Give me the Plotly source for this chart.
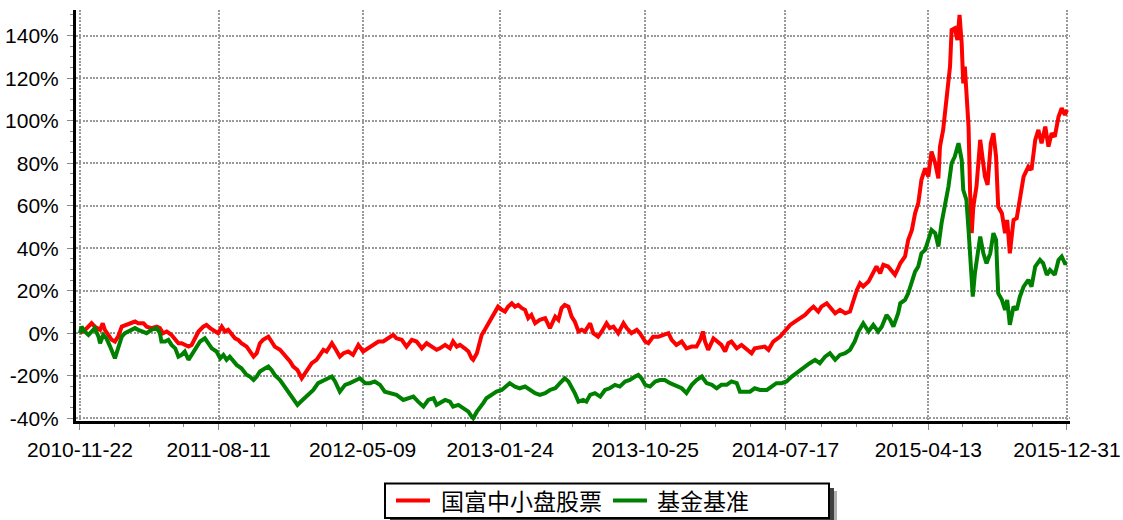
import pandas as pd
import plotly.graph_objects as go

start = pd.Timestamp("2010-11-22")

tick_labels = ["2010-11-22", "2011-08-11", "2012-05-09", "2013-01-24",
               "2013-10-25", "2014-07-17", "2015-04-13", "2015-12-31"]
y_ticks = [-40, -20, 0, 20, 40, 60, 80, 100, 120, 140]
y_tick_labels = [f"{v}%" for v in y_ticks]

fund_name = "国富中小盘股票"
bench_name = "基金基准"

# days since 2010-11-22 and cumulative return (%)
fund_days = [0, 11, 22, 28, 38, 43, 47, 54, 60, 66, 72, 79, 88, 98, 104, 110, 120, 126, 135, 145, 151, 157, 164, 173, 180, 186, 192, 198, 205, 211, 217, 224, 233, 239, 246, 255, 261, 268, 274, 280, 287, 293, 299, 305, 315, 321, 328, 334, 340, 346, 356, 362, 368, 378, 387, 397, 403, 411, 419, 425, 431, 438, 447, 453, 460, 466, 476, 482, 491, 498, 507, 516, 526, 535, 545, 554, 564, 573, 583, 592, 598, 608, 617, 627, 636, 646, 655, 665, 674, 680, 690, 699, 705, 712, 718, 727, 734, 740, 743, 750, 756, 759, 765, 772, 778, 784, 790, 797, 803, 809, 816, 822, 828, 835, 841, 847, 853, 860, 866, 869, 879, 888, 898, 904, 910, 916, 923, 929, 935, 942, 948, 954, 964, 970, 979, 986, 995, 1001, 1008, 1017, 1027, 1033, 1042, 1052, 1058, 1068, 1074, 1083, 1093, 1102, 1112, 1118, 1127, 1137, 1146, 1156, 1165, 1172, 1177, 1181, 1187, 1197, 1203, 1212, 1219, 1225, 1231, 1241, 1250, 1260, 1269, 1275, 1285, 1294, 1301, 1310, 1323, 1332, 1342, 1351, 1360, 1370, 1379, 1386, 1395, 1401, 1411, 1420, 1427, 1436, 1446, 1455, 1461, 1468, 1474, 1480, 1490, 1499, 1505, 1512, 1518, 1527, 1534, 1540, 1546, 1550, 1559, 1565, 1572, 1578, 1584, 1590, 1597, 1603, 1609, 1616, 1622, 1625, 1631, 1638, 1644, 1647, 1653, 1658, 1662, 1666, 1669, 1672, 1679, 1682, 1685, 1688, 1694, 1701, 1704, 1710, 1715, 1721, 1726, 1731, 1735, 1742, 1748, 1752, 1757, 1764, 1770, 1776, 1783, 1792, 1798, 1805, 1811, 1817, 1824, 1830, 1836, 1842, 1849, 1855, 1861, 1865]
fund_values = [0, 1.9, 4.7, 3.1, 1.6, 4.7, 1.6, -0.8, -3.1, -3.9, -1.6, 3.1, 3.9, 4.7, 5.5, 4.7, 4.7, 3.1, 2.4, 3.1, 2.4, 0.0, 0.8, -0.8, -3.1, -4.7, -4.7, -5.5, -6.3, -5.5, -2.4, 0.8, 3.1, 3.9, 2.4, 0.8, 0.0, 3.1, 0.8, 1.6, -0.8, -2.4, -3.1, -4.7, -6.3, -8.6, -11.0, -9.4, -4.7, -3.1, -1.6, -3.9, -6.3, -7.8, -10.2, -13.3, -15.7, -17.3, -21.2, -18.8, -16.5, -14.1, -12.5, -10.2, -7.8, -8.6, -4.7, -7.1, -11.0, -9.4, -8.6, -10.2, -5.5, -8.6, -7.1, -5.5, -3.9, -3.9, -2.4, -0.8, -2.4, -3.1, -6.3, -3.1, -3.9, -7.1, -4.7, -6.3, -7.8, -7.1, -5.5, -7.1, -3.9, -6.3, -5.5, -7.1, -8.6, -11.8, -12.5, -9.4, -3.9, -0.8, 1.6, 4.7, 7.1, 10.2, 12.5, 11.0, 10.2, 12.5, 14.1, 12.5, 13.3, 11.8, 11.0, 7.1, 8.6, 4.7, 5.5, 6.3, 7.1, 2.4, 7.8, 6.3, 11.8, 13.3, 12.5, 7.8, 5.5, 0.8, 1.6, 0.8, 4.7, 0.0, -1.6, 0.8, 4.7, 2.4, 3.1, 0.0, 4.7, 2.4, 0.0, 1.6, 0.0, -3.9, -4.7, -1.6, -1.6, -0.8, 0.0, -3.1, -5.5, -3.9, -7.1, -6.3, -6.3, -3.1, 0.8, -3.9, -7.8, -2.4, -3.9, -5.5, -8.6, -4.7, -3.9, -7.1, -5.5, -7.8, -9.4, -7.1, -6.7, -6.3, -7.8, -3.9, -1.6, 0.8, 3.9, 5.5, 7.1, 8.6, 11.0, 12.5, 10.2, 12.5, 14.1, 11.8, 9.4, 11.0, 9.4, 10.2, 14.9, 20.4, 23.5, 22.0, 24.3, 29.0, 31.4, 28.2, 32.2, 31.4, 29.0, 27.5, 30.6, 32.9, 36.1, 43.9, 48.6, 56.5, 61.2, 72.2, 77.6, 73.7, 85.5, 80.0, 72.9, 87.8, 95.7, 114.5, 125.5, 142.7, 143.5, 138.0, 149.8, 136.5, 117.6, 125.5, 97.2, 65.9, 47.1, 59.6, 69.0, 91.0, 84.7, 73.7, 69.8, 89.4, 94.1, 83.1, 59.6, 56.5, 47.1, 53.3, 37.6, 53.3, 54.1, 62.7, 73.7, 78.4, 76.9, 91.0, 95.7, 89.4, 97.2, 87.8, 94.1, 92.5, 101.9, 105.9, 102.7, 105.1]

bench_days = [0, 3, 9, 16, 22, 28, 35, 38, 44, 50, 57, 63, 66, 72, 79, 85, 91, 98, 104, 110, 120, 126, 135, 145, 151, 154, 161, 167, 173, 180, 186, 192, 198, 205, 211, 220, 227, 236, 243, 249, 258, 265, 271, 277, 283, 290, 296, 305, 315, 321, 328, 334, 340, 350, 356, 362, 368, 378, 387, 397, 403, 411, 416, 431, 441, 450, 460, 469, 476, 482, 491, 501, 510, 520, 529, 539, 548, 557, 567, 576, 586, 598, 611, 620, 630, 639, 649, 658, 668, 674, 680, 690, 699, 705, 715, 724, 734, 740, 743, 750, 756, 762, 768, 778, 787, 797, 806, 812, 822, 831, 841, 850, 860, 869, 879, 888, 898, 907, 916, 923, 929, 935, 942, 951, 957, 964, 973, 983, 992, 1001, 1011, 1020, 1030, 1039, 1049, 1055, 1061, 1068, 1077, 1087, 1096, 1105, 1115, 1127, 1137, 1146, 1156, 1165, 1175, 1184, 1194, 1203, 1212, 1222, 1231, 1241, 1247, 1257, 1266, 1275, 1285, 1298, 1307, 1316, 1326, 1335, 1345, 1357, 1367, 1379, 1389, 1398, 1408, 1417, 1427, 1436, 1446, 1455, 1464, 1471, 1480, 1490, 1499, 1508, 1515, 1524, 1531, 1537, 1546, 1550, 1559, 1565, 1572, 1578, 1584, 1590, 1597, 1603, 1609, 1616, 1622, 1628, 1634, 1641, 1647, 1653, 1660, 1666, 1669, 1675, 1679, 1682, 1687, 1691, 1697, 1701, 1707, 1713, 1720, 1726, 1731, 1735, 1742, 1748, 1752, 1757, 1764, 1770, 1776, 1783, 1792, 1798, 1805, 1814, 1820, 1827, 1833, 1842, 1849, 1855, 1861, 1865]
bench_values = [0, 3.1, 0.8, -0.8, 0.8, 2.4, -1.6, -4.7, -0.8, -2.4, -6.3, -10.2, -11.8, -7.1, -1.6, 0.0, 0.8, 1.6, 2.4, 1.6, 0.8, 0.0, 1.6, 2.4, 0.0, -3.9, -3.9, -3.1, -5.5, -7.1, -11.0, -10.2, -8.6, -12.5, -10.2, -6.3, -3.9, -2.4, -4.7, -7.1, -8.6, -11.8, -10.2, -12.5, -11.0, -13.3, -14.9, -16.5, -19.6, -20.4, -22.0, -20.4, -18.0, -16.5, -15.7, -17.3, -19.6, -22.0, -25.1, -28.2, -30.6, -33.7, -32.5, -29.0, -26.7, -23.5, -22.0, -21.2, -20.4, -22.7, -27.5, -24.3, -23.5, -22.0, -21.2, -23.5, -23.5, -22.7, -24.3, -27.5, -28.2, -29.0, -31.4, -30.6, -29.8, -32.2, -34.5, -31.4, -30.6, -33.7, -32.9, -31.4, -32.2, -34.5, -33.7, -35.3, -36.9, -39.2, -40.0, -36.9, -34.5, -32.9, -30.6, -29.0, -27.5, -26.7, -25.1, -23.5, -25.1, -25.9, -25.1, -26.7, -28.2, -29.0, -28.2, -26.7, -25.9, -23.5, -21.2, -22.7, -25.1, -28.2, -32.2, -31.4, -32.2, -29.0, -28.2, -29.8, -26.7, -25.9, -24.3, -25.1, -22.7, -22.0, -20.4, -19.6, -21.2, -24.3, -25.1, -22.7, -22.0, -22.0, -23.5, -25.1, -25.9, -28.2, -24.3, -22.0, -20.4, -23.5, -24.3, -25.9, -24.3, -24.3, -22.7, -23.5, -27.5, -27.5, -27.5, -25.9, -26.7, -26.7, -25.1, -23.5, -23.5, -22.7, -20.4, -18.0, -16.5, -14.1, -12.5, -14.1, -11.0, -9.4, -12.5, -10.2, -9.4, -7.8, -3.9, 0.8, 4.7, 0.8, 3.9, 0.8, 3.1, 8.6, 6.3, 3.1, 9.4, 14.1, 15.7, 18.8, 24.3, 29.0, 31.4, 37.6, 39.2, 43.9, 48.6, 47.1, 40.8, 51.8, 59.6, 69.0, 80.0, 83.1, 89.4, 81.6, 67.4, 62.7, 48.6, 34.5, 17.2, 28.2, 37.6, 45.5, 37.6, 32.9, 37.6, 47.1, 43.9, 18.8, 15.7, 11.0, 15.7, 4.0, 12.5, 11.0, 17.2, 21.9, 25.1, 21.9, 31.4, 34.5, 32.9, 27.5, 29.8, 27.5, 34.5, 36.1, 32.9, 32.9]

fund_color = "#ff0000"
bench_color = "#008000"

fund_dates = start + pd.to_timedelta(fund_days, unit="D")
bench_dates = start + pd.to_timedelta(bench_days, unit="D")

tick_dates = [pd.Timestamp(t) for t in tick_labels]
minor_dates = []
for a, b in zip(tick_dates[:-1], tick_dates[1:]):
    for k in (1, 2, 3):
        minor_dates.append(a + (b - a) * k / 4)

num_font = "Liberation Sans, Arial, sans-serif"
cjk_font = "Noto Sans CJK SC, sans-serif"

W, H = 1123, 520
ML, MR, MT, MB = 76, 53, 10, 99
PW, PH = W - ML - MR, H - MT - MB


def px(x):
    return (x - ML) / PW


def py(y):
    return (H - MB - y) / PH


fig = go.Figure()
fig.add_trace(go.Scatter(x=fund_dates, y=fund_values, mode="lines", name=fund_name,
                         line=dict(color=fund_color, width=4), showlegend=False))
fig.add_trace(go.Scatter(x=bench_dates, y=bench_values, mode="lines", name=bench_name,
                         line=dict(color=bench_color, width=4), showlegend=False))

# legend drawn as a framed box with a drop shadow
legend_shapes = [
    dict(type="rect", xref="paper", yref="paper", x0=px(393), x1=px(837), y0=py(527), y1=py(491),
         fillcolor="#b0b0b0", line=dict(width=0)),
    dict(type="rect", xref="paper", yref="paper", x0=px(390), x1=px(834), y0=py(524), y1=py(488),
         fillcolor="#404040", line=dict(width=0)),
    dict(type="rect", xref="paper", yref="paper", x0=px(385), x1=px(829), y0=py(518), y1=py(483.5),
         fillcolor="white", line=dict(color="black", width=2)),
    dict(type="line", xref="paper", yref="paper", x0=px(396), x1=px(430), y0=py(500.5), y1=py(500.5),
         line=dict(color=fund_color, width=4)),
    dict(type="line", xref="paper", yref="paper", x0=px(613), x1=px(647), y0=py(500.5), y1=py(500.5),
         line=dict(color=bench_color, width=4)),
]
legend_texts = [
    dict(text=fund_name, xref="paper", yref="paper", x=px(439), y=py(500.5),
         xanchor="left", yanchor="middle", showarrow=False,
         font=dict(family=cjk_font, size=23, color="black")),
    dict(text=bench_name, xref="paper", yref="paper", x=px(655), y=py(500.5),
         xanchor="left", yanchor="middle", showarrow=False,
         font=dict(family=cjk_font, size=23, color="black")),
]

grid_color = "#999999"
fig.update_layout(
    width=W, height=H,
    margin=dict(l=ML, r=MR, t=MT, b=MB, autoexpand=False),
    paper_bgcolor="white", plot_bgcolor="white",
    showlegend=False,
    xaxis=dict(
        type="date", automargin=False,
        range=[start - pd.Timedelta(days=7.5), start + pd.Timedelta(days=1870.7)],
        tickvals=tick_dates, ticktext=tick_labels,
        tickfont=dict(family=num_font, size=21, color="black"),
        ticks="outside", ticklen=6, tickcolor="#888888", tickwidth=1,
        ticklabelstandoff=2,
        showline=True, linecolor="black", linewidth=3,
        showgrid=True, gridcolor=grid_color, gridwidth=2, griddash="2px,1.4px",
        zeroline=False,
        minor=dict(tickvals=minor_dates, ticks="outside", ticklen=3,
                   tickcolor="#888888", showgrid=False),
    ),
    yaxis=dict(
        automargin=False,
        range=[-41.3, 152.1],
        tickvals=y_ticks, ticktext=y_tick_labels,
        tickfont=dict(family=num_font, size=21, color="black"),
        ticks="outside", ticklen=6, tickcolor="#888888", tickwidth=1,
        ticklabelstandoff=4,
        showline=True, linecolor="black", linewidth=3,
        showgrid=True, gridcolor=grid_color, gridwidth=2, griddash="2px,1.4px",
        zeroline=False,
        minor=dict(dtick=5, ticks="outside", ticklen=3, tickcolor="#888888",
                   showgrid=False),
    ),
    shapes=legend_shapes,
    annotations=legend_texts,
)

fig.write_html(
    "out.html",
    config={"displayModeBar": False},
    post_script="document.body.style.margin='0';document.body.style.padding='0';"
                "document.body.style.overflow='hidden';",
)
